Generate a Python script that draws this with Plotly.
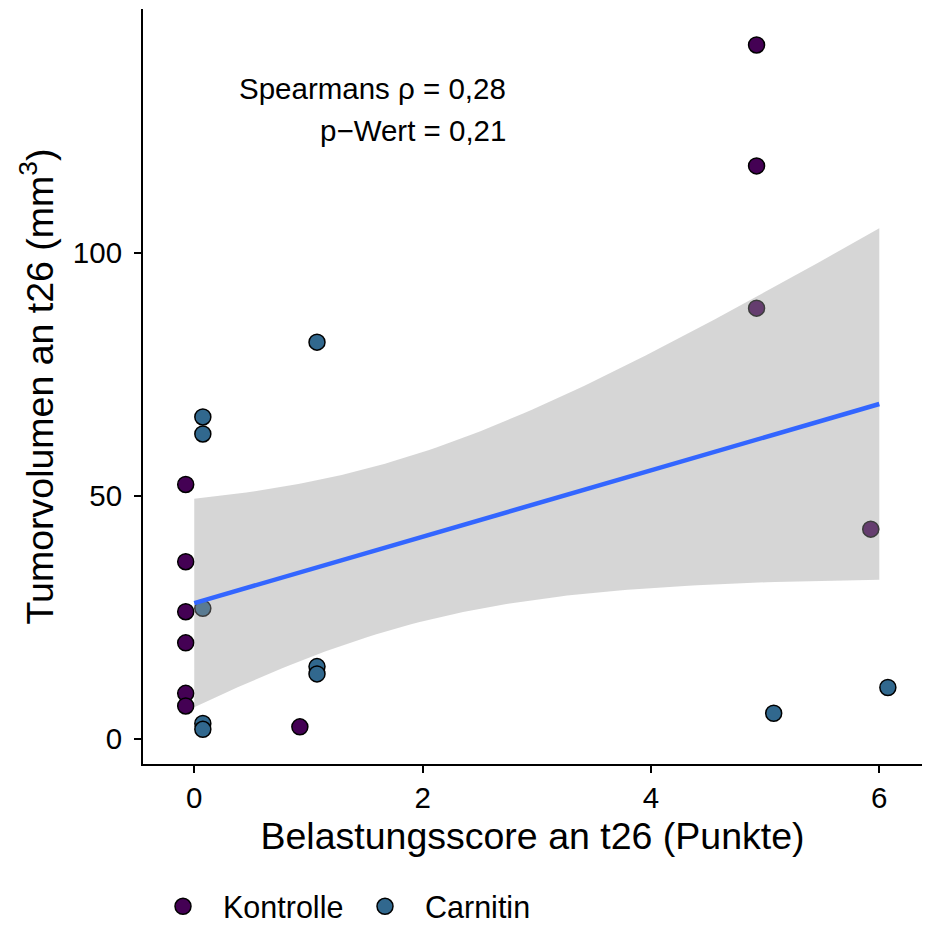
import numpy as np
import plotly.graph_objects as go

# Belastungsscore (raw integer scores) and tumour volume at t26, per group
groups = ["Kontrolle", "Carnitin"]
score_kontrolle = [0, 0, 0, 0, 0, 0, 1, 5, 5, 5, 6]
volume_kontrolle = [52.3, 36.4, 26.1, 19.7, 9.3, 6.7, 2.4, 142.8, 117.9, 88.6, 43.1]
score_carnitin = [0, 0, 0, 0, 0, 1, 1, 1, 5, 6]
volume_carnitin = [66.2, 62.7, 26.8, 3.1, 1.9, 14.8, 13.3, 81.6, 5.2, 10.5]

group_colors = {"Kontrolle": "#440154", "Carnitin": "#31688E"}
dodge = {"Kontrolle": -0.075, "Carnitin": 0.075}

x_ticks = [0, 2, 4, 6]
y_ticks = [0, 50, 100]

rho_label = "Spearmans ρ = 0,28"
p_label = "p−Wert = 0,21"

FONT = "Liberation Sans, Arial, Helvetica, sans-serif"

fig = go.Figure()

series = {
    "Kontrolle": (score_kontrolle, volume_kontrolle),
    "Carnitin": (score_carnitin, volume_carnitin),
}

# points, dodged horizontally by group
for g in groups:
    xs, ys = series[g]
    fig.add_trace(go.Scatter(
        x=[x + dodge[g] for x in xs], y=ys, mode="markers", name=g,
        marker=dict(size=16, color=group_colors[g],
                    line=dict(color="black", width=1.5)),
    ))

# linear fit with 95% confidence band on the raw scores
x_all = np.array(score_kontrolle + score_carnitin, dtype=float)
y_all = np.array(volume_kontrolle + volume_carnitin, dtype=float)
n = len(x_all)
slope, intercept = np.polyfit(x_all, y_all, 1)
resid = y_all - (intercept + slope * x_all)
s = np.sqrt(np.sum(resid ** 2) / (n - 2))
sxx = np.sum((x_all - x_all.mean()) ** 2)
t_crit = 2.093  # t quantile 0.975, df = 19
grid = np.linspace(x_all.min(), x_all.max(), 80)
fit = intercept + slope * grid
half = t_crit * s * np.sqrt(1 / n + (grid - x_all.mean()) ** 2 / sxx)

fig.add_trace(go.Scatter(
    x=np.concatenate([grid, grid[::-1]]),
    y=np.concatenate([fit + half, (fit - half)[::-1]]),
    fill="toself", fillcolor="rgba(153,153,153,0.4)",
    line=dict(width=0), mode="lines", hoverinfo="skip", showlegend=False,
))
fig.add_trace(go.Scatter(
    x=grid, y=fit, mode="lines", line=dict(color="#3366FF", width=4.5),
    showlegend=False,
))

fig.add_annotation(x=2.75, y=133.9, xref="x", yref="y", text=rho_label,
                   showarrow=False, xanchor="right", yanchor="middle",
                   font=dict(family=FONT, size=29.5, color="black"))
fig.add_annotation(x=2.75, y=125.1, xref="x", yref="y", text=p_label,
                   showarrow=False, xanchor="right", yanchor="middle",
                   font=dict(family=FONT, size=29.5, color="black"))

axis_common = dict(
    showline=True, linecolor="black", linewidth=2,
    ticks="outside", ticklen=7, tickwidth=2, tickcolor="black",
    showgrid=False, zeroline=False,
    tickfont=dict(family=FONT, size=29.5, color="black"),
)

fig.update_xaxes(
    range=[-0.449, 6.374], tickvals=x_ticks, ticktext=[str(v) for v in x_ticks],
    title=dict(text="Belastungsscore an t26 (Punkte)",
               font=dict(family=FONT, size=37.5, color="black"), standoff=9),
    ticklabelstandoff=0, **axis_common,
)
fig.update_yaxes(
    range=[-5.25, 150.2], tickvals=y_ticks, ticktext=[str(v) for v in y_ticks],
    title=dict(text="Tumorvolumen an t26 (mm<sup>3</sup>)",
               font=dict(family=FONT, size=37.5, color="black"), standoff=8),
    ticklabelstandoff=6, **axis_common,
)

fig.update_layout(
    width=925, height=928, autosize=False,
    margin=dict(l=143, r=3, t=9, b=164, autoexpand=False),
    plot_bgcolor="white", paper_bgcolor="white",
    font=dict(family=FONT, color="black"),
    legend=dict(orientation="h", x=0.0, xanchor="left", y=-0.2238,
                yanchor="bottom", itemwidth=70, entrywidth=117,
                entrywidthmode="pixels",
                font=dict(family=FONT, size=30.5, color="black"),
                bgcolor="rgba(0,0,0,0)"),
)

fig.write_html("out.html")
